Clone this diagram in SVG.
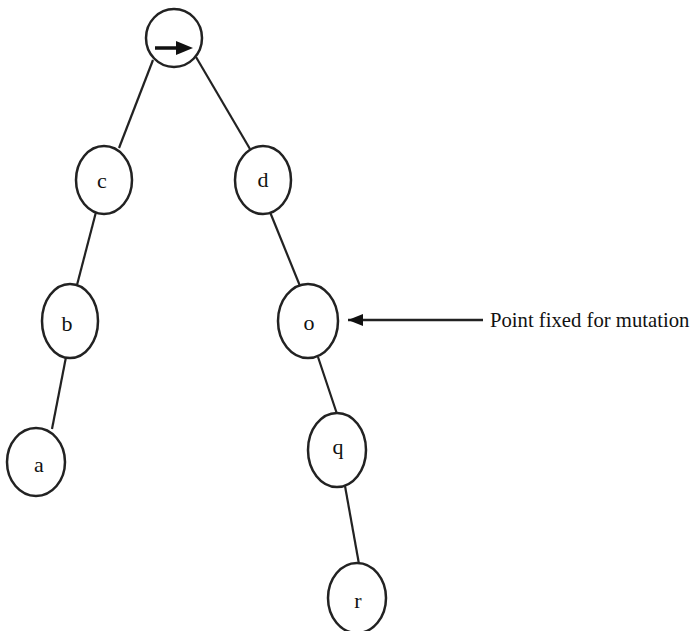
<svg xmlns="http://www.w3.org/2000/svg" width="696" height="631" viewBox="0 0 696 631">
<defs>
<style>
.n{fill:#fff;stroke:#222;stroke-width:2.5}
.e{stroke:#222;stroke-width:2.2;fill:none}
</style>
<marker id="ah" markerWidth="16" markerHeight="12" refX="15" refY="6" orient="auto" markerUnits="userSpaceOnUse">
<path d="M0,0 L15,6 L0,12 Z" fill="#111"/>
</marker>
</defs>
<rect width="696" height="631" fill="#fff"/>
<g id="connectors">
<line class="e" x1="153" y1="60" x2="119" y2="148"/>
<line class="e" x1="196" y1="57" x2="250" y2="149"/>
<line class="e" x1="96" y1="212" x2="77" y2="285"/>
<line class="e" x1="66" y1="357" x2="52" y2="429"/>
<line class="e" x1="270" y1="212" x2="300" y2="286"/>
<line class="e" x1="318" y1="357" x2="337" y2="414"/>
<line class="e" x1="345" y1="486" x2="359" y2="564"/>
<line id="pointer" x1="483" y1="320" x2="348" y2="320" stroke="#222" stroke-width="2.5" marker-end="url(#ah)"/>
</g>
<g id="root">
<ellipse class="n" cx="174" cy="38" rx="28" ry="29"/>
<line x1="155" y1="48" x2="180" y2="48" stroke="#111" stroke-width="3.5"/>
<path d="M176,41 L193,48 L176,55 Z" fill="#111"/>
</g>
<g font-family="'Liberation Serif','Times New Roman',serif" font-size="22" fill="#111" text-anchor="middle">
<g id="node-c"><ellipse class="n" cx="104" cy="180" rx="28" ry="34"/><text x="102" y="188">c</text></g>
<g id="node-d"><ellipse class="n" cx="263" cy="180" rx="28" ry="34"/><text x="263" y="187">d</text></g>
<g id="node-b"><ellipse class="n" cx="70" cy="321" rx="28" ry="37"/><text x="67" y="331">b</text></g>
<g id="node-o"><ellipse class="n" cx="308" cy="321" rx="30" ry="37"/><text x="309" y="330">o</text></g>
<g id="node-a"><ellipse class="n" cx="36" cy="462" rx="29" ry="34"/><text x="39" y="472">a</text></g>
<g id="node-q"><ellipse class="n" cx="337" cy="450" rx="29" ry="37"/><text x="338" y="454">q</text></g>
<g id="node-r"><ellipse class="n" cx="357" cy="598" rx="29" ry="35"/><text x="358" y="608">r</text></g>
</g>
<g id="label"><text x="490" y="327" font-family="'Liberation Serif','Times New Roman',serif" font-size="20.7" fill="#111">Point fixed for mutation</text></g>
</svg>
